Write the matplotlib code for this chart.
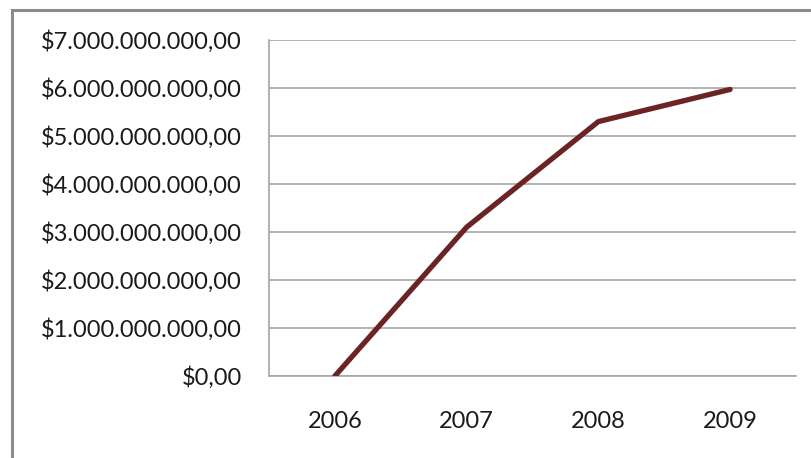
import matplotlib
matplotlib.use("Agg")
import matplotlib.pyplot as plt
from matplotlib.patches import Rectangle
from matplotlib.ticker import FuncFormatter

years = ["2006", "2007", "2008", "2009"]
values = [0.0, 3.1e9, 5.3e9, 5.97e9]
y_ticks = [0, 1e9, 2e9, 3e9, 4e9, 5e9, 6e9, 7e9]

W, H = 811, 458
fig = plt.figure(figsize=(W / 100, H / 100), dpi=100)
fig.patch.set_facecolor("white")

# outer chart frame (runs off the right and bottom edges)
fig.patches.append(Rectangle((12 / W, -0.2), 1.0, (H - 10) / H + 0.2,
                             transform=fig.transFigure, fill=False,
                             edgecolor="#8c8c8c", linewidth=2.2))

left, right, top, bottom = 269, 796, 40, 376
ax = fig.add_axes([left / W, 1 - bottom / H, (right - left) / W, (bottom - top) / H])

x = list(range(len(years)))
ax.plot(x, values, color="#6b2323", linewidth=3.8, solid_capstyle="round",
        solid_joinstyle="round", zorder=3)

ax.set_xlim(-0.5, len(years) - 0.5)
ax.set_ylim(0, 7e9)
ax.set_yticks(y_ticks)
ax.set_xticks(x)
ax.set_xticklabels(years)


def money(v, _):
    s = f"{v:,.2f}".replace(",", "X").replace(".", ",").replace("X", ".")
    return "$" + s


ax.yaxis.set_major_formatter(FuncFormatter(money))
ax.grid(axis="y", color="#a6a6a6", linewidth=1.2)
ax.set_axisbelow(True)
for side in ("top", "right"):
    ax.spines[side].set_visible(False)
for side in ("left", "bottom"):
    ax.spines[side].set_color("#a6a6a6")
    ax.spines[side].set_linewidth(1.2)
ax.tick_params(axis="both", length=0, labelsize=17, colors="#1a1a1a")
ax.tick_params(axis="y", pad=19.5)
ax.tick_params(axis="x", pad=25)
for lbl in ax.get_xticklabels() + ax.get_yticklabels():
    lbl.set_family("Lato")

fig.savefig("out.png", dpi=100)
